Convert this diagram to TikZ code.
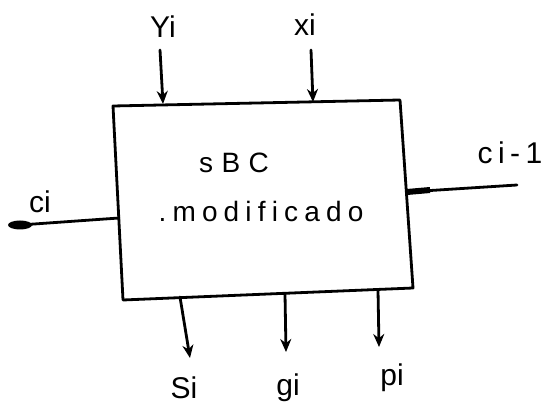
\documentclass[tikz,border=0pt]{standalone}
\usepackage{fontspec}
\setmainfont{Liberation Sans}
\usetikzlibrary{arrows.meta}
\begin{document}
\begin{tikzpicture}[x=1pt,y=-1pt,
  edge/.style={line width=2.8pt,line cap=round},
  sig/.style={edge,-{Stealth[length=13pt,width=11pt]}},
  lbl/.style={font=\fontsize{30}{34}\selectfont,inner sep=0pt},
  inner/.style={font=\fontsize{28}{32}\selectfont,inner sep=0pt}]
\useasboundingbox (0,0) rectangle (545,419);
% box corners
\coordinate (tl) at (113,106);
\coordinate (tr) at (400,100);
\coordinate (br) at (413,288);
\coordinate (bl) at (123,300);
\draw[edge,line join=round] (tl) -- (tr) -- (br) -- (bl) -- cycle;
% inner text
\node[inner] (t1) at (234,163) {\addfontfeature{LetterSpace=30}sBC};
\node[inner] (t2) at (261,211) {\addfontfeature{LetterSpace=22}.modificado};
% attachment points
\coordinate (yin) at (160,50);  \coordinate (yb) at (163,104);
\coordinate (xin) at (311,50);  \coordinate (xb) at (313,102);
\coordinate (sb) at (180,297);  \coordinate (sout) at (190,358);
\coordinate (gb) at (285,294);  \coordinate (gout) at (286,352);
\coordinate (pb) at (378,290);  \coordinate (pout) at (379,347);
\coordinate (cb) at (119,218);  \coordinate (cout) at (20,225);
\coordinate (c1b) at (407,192); \coordinate (c1m) at (430,190); \coordinate (c1in) at (517,185);
% inputs
\draw[sig] (yin) -- (yb);
\draw[sig] (xin) -- (xb);
% outputs
\draw[sig] (sb) -- (sout);
\draw[sig] (gb) -- (gout);
\draw[sig] (pb) -- (pout);
% carries
\draw[edge] (cb) -- (cout);
\fill (cout) ellipse (12pt and 4.5pt);
\draw[edge] (c1in) -- (c1b);
\draw[line width=6pt] (c1m) -- (c1b);
% labels
\node[lbl] (ly) at (163,27) {Yi};
\node[lbl] (lx) at (305,25) {xi};
\node[lbl] (lc) at (40,202) {ci};
\node[lbl] (lc1) at (510,153) {\addfontfeature{LetterSpace=18}ci-1};
\node[lbl] (ls) at (184,388) {Si};
\node[lbl] (lg) at (288,388) {gi};
\node[lbl] (lp) at (392,378) {pi};
\end{tikzpicture}
\end{document}
